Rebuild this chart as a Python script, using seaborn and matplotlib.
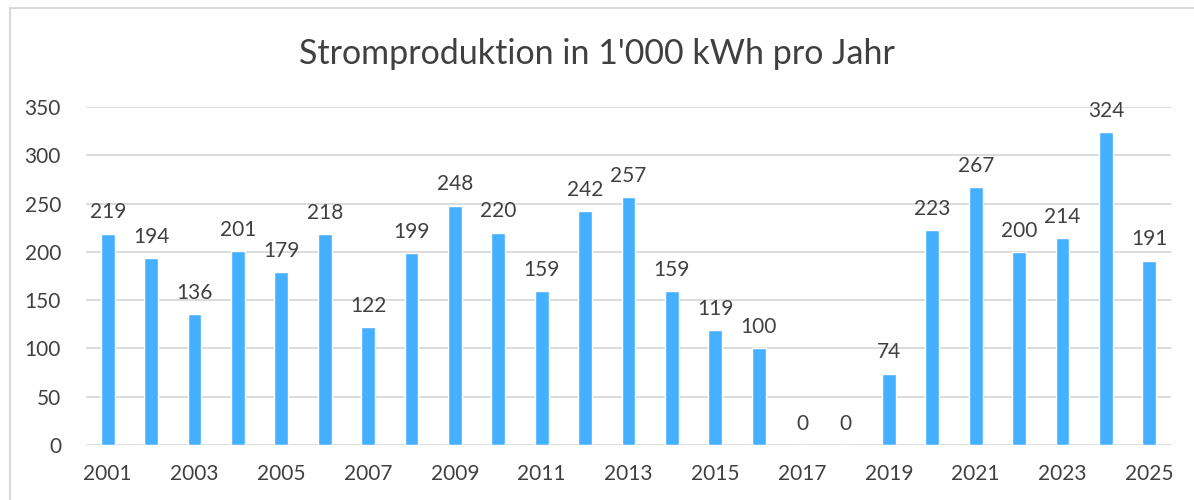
import matplotlib
matplotlib.use("Agg")
import matplotlib.pyplot as plt
import seaborn as sns
import pandas as pd
from matplotlib.patches import Rectangle

years = [str(y) for y in range(2001, 2026)]
values = [219, 194, 136, 201, 179, 218, 122, 199, 248, 220, 159, 242, 257,
          159, 119, 100, 0, 0, 74, 223, 267, 200, 214, 324, 191]
title = "Stromproduktion in 1'000 kWh pro Jahr"

sns.set_theme(style="white")
plt.rcParams['font.family'] = ['Lato', 'DejaVu Sans']

TXT = "#404040"
BAR = "#45B0FF"
GRID = "#D9D9D9"

df = pd.DataFrame({"Jahr": years, "Wert": values})

fig = plt.figure(figsize=(11.94, 5.0), dpi=100)
ax = fig.add_axes([86/1194, 1-445/500, (1171-86)/1194, (445-107)/500])

sns.barplot(data=df, x="Jahr", y="Wert", color=BAR, width=0.32, ax=ax,
            saturation=1, errorbar=None, zorder=3)

ax.set_ylim(0, 350)
ax.set_xlim(-0.5, len(years) - 0.5)
ax.set_yticks(range(0, 351, 50))
ax.yaxis.grid(True, color=GRID, linewidth=1.3, zorder=0)
ax.xaxis.grid(False)
for s in ax.spines.values():
    s.set_visible(False)
ax.set_xlabel("")
ax.set_ylabel("")
ax.set_xticks(range(len(years)))
ax.set_xticklabels([y if i % 2 == 0 else "" for i, y in enumerate(years)])
ax.tick_params(axis="both", length=0, labelsize=15, colors=TXT)
ax.tick_params(axis="x", pad=14)
ax.tick_params(axis="y", pad=18)

for i, v in enumerate(values):
    ax.annotate(str(v), (i, v), xytext=(0, 8), textcoords="offset points",
                ha="center", va="bottom", fontsize=15, color=TXT)

fig.text(0.5, 1 - 54/500, title, ha="center", va="center", fontsize=24.5, color=TXT)

fig.patches.append(Rectangle((10/1194, -0.1), 1.2, 1.1 - 8/500, transform=fig.transFigure,
                             fill=False, edgecolor=GRID, linewidth=1.5))

fig.savefig("out.png", dpi=100)
